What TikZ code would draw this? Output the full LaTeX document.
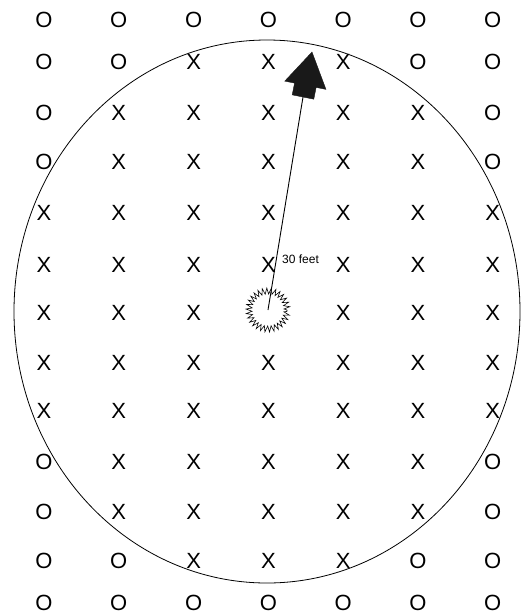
\documentclass[tikz,border=0pt]{standalone}
\usepackage{fontspec}
\setmainfont{Liberation Sans}
\usetikzlibrary{decorations.pathmorphing,calc}
\begin{document}
\begin{tikzpicture}[x=1pt,y=-1pt,
  glyph/.style={font=\fontsize{22}{22}\selectfont, inner sep=0pt},
  ring/.style={line width=0.8pt},
  burst/.style={draw, circle, minimum size=38pt, inner sep=0pt, line width=0.6pt,
    decorate, decoration={zigzag, amplitude=3pt, segment length=4pt}},
  rayline/.style={line width=0.9pt},
  headfill/.style={fill=black!90, draw=black!90, line join=miter},
  dist/.style={font=\fontsize{12}{12}\selectfont, inner sep=0pt}]
\useasboundingbox (0,0) rectangle (524,614);
\draw[ring] (267,311.5) ellipse [x radius=253, y radius=271.5];
\foreach \y/\pat [count=\r] in {
  20/{O,O,O,O,O,O,O},
  62/{O,O,X,X,X,O,O},
  113/{O,X,X,X,X,X,O},
  162/{O,X,X,X,X,X,O},
  213/{X,X,X,X,X,X,X},
  265/{X,X,X,X,X,X,X},
  313/{X,X,X,B,X,X,X},
  363/{X,X,X,X,X,X,X},
  411/{X,X,X,X,X,X,X},
  462/{O,X,X,X,X,X,O},
  512/{O,X,X,X,X,X,O},
  561/{O,O,X,X,X,O,O},
  603/{O,O,O,O,O,O,O}} {
  \foreach \ch [count=\k] in \pat {
    \pgfmathsetmacro{\xx}{44+(\k-1)*74.8}
    \if B\ch\else
      \node[glyph] (g-\r-\k) at (\xx,\y) {\ch};
    \fi
  }
}
\node[burst] (burst) at (268,310) {};
\coordinate (stem) at (303,97);
\coordinate (tip) at (312,52);
\coordinate (hb) at ($(stem)!12pt!(tip)$);
\draw[rayline] (burst.center) -- (stem);
\fill[headfill] ($(stem)!11pt!90:(tip)$) -- ($(hb)!11pt!90:(tip)$) -- ($(hb)!21pt!90:(tip)$) -- (tip)
  -- ($(hb)!21pt!-90:(tip)$) -- ($(hb)!11pt!-90:(tip)$) -- ($(stem)!11pt!-90:(tip)$) -- cycle;
\node[dist, anchor=west] (lbl) at (282,259) {30 feet};
\end{tikzpicture}
\end{document}
